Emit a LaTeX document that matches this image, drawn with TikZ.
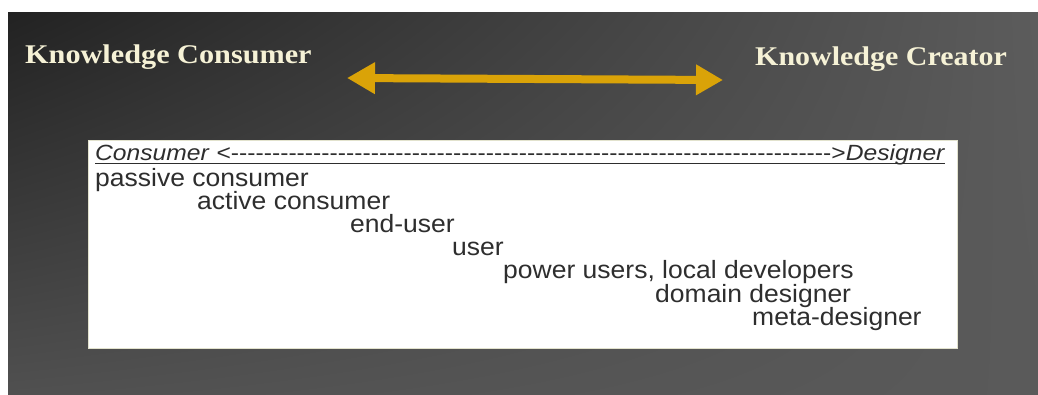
\documentclass[tikz,border=0pt]{standalone}
\usepackage{fontspec}
\setmainfont{Liberation Sans}
\newfontfamily\titlefont{Liberation Serif}
\usetikzlibrary{arrows.meta,shadings}
\definecolor{gold}{RGB}{218,163,8}
\definecolor{cream}{RGB}{246,242,214}
\definecolor{ink}{RGB}{46,46,46}
\definecolor{bgtl}{RGB}{34,34,34}
\definecolor{bgtr}{RGB}{92,92,92}
\definecolor{bgbl}{RGB}{80,80,80}
\definecolor{bgbr}{RGB}{90,90,90}
\definecolor{boxedge}{RGB}{226,226,205}
\tikzset{
  titletext/.style={text=cream, anchor=base west, inner sep=0pt, font=\titlefont\bfseries\fontsize{27}{30}\selectfont},
  roletext/.style={text=ink, anchor=base west, inner sep=0pt, font=\fontsize{25}{28}\selectfont},
  headtext/.style={text=ink, anchor=base west, inner sep=0pt, font=\fontsize{22}{24}\selectfont},
  goldarrow/.style={draw=gold, line width=8pt, {Triangle[length=28pt,width=30pt]}-{Triangle[length=27pt,width=29pt]}},
}
\begin{document}
\begin{tikzpicture}[x=1pt,y=-1pt]
\useasboundingbox (0,0) rectangle (1038,394);
\fill[white] (0,0) rectangle (1038,394);
\shade[upper left=bgtl, upper right=bgtr, lower left=bgbl, lower right=bgbr] (8,12) rectangle (1038,394);

% titles
\node[titletext] (kcons) at (25,63) {\scalebox{1.12}[1]{Knowledge Consumer}};
\node[titletext] (kcrea) at (755,65) {\scalebox{1.11}[1]{Knowledge Creator}};

% double arrow
\coordinate (aL) at (347,78);
\coordinate (aR) at (723,80);
\draw[goldarrow] (aL) -- (aR);

% white box
\draw[draw=boxedge, fill=white, line width=1pt] (88,140) rectangle (957,348);

% header
\node[headtext] (hdr) at (95,160) {\scalebox{1.12}[1]{\makebox[759pt][s]{\textit{Consumer} <\xleaders\hbox{-}\hfill>\textit{Designer}}}};
\draw[ink, line width=1.6pt] ([yshift=-3.5pt]hdr.base west) -- ([yshift=-3.5pt]hdr.base east);

% roles
\node[roletext] (r1) at (95,186)  {\scalebox{1.06}[1]{passive consumer}};
\node[roletext] (r2) at (197,209) {\scalebox{1.06}[1]{active consumer}};
\node[roletext] (r3) at (350,232) {\scalebox{1.06}[1]{end-user}};
\node[roletext] (r4) at (452,255) {\scalebox{1.06}[1]{user}};
\node[roletext] (r5) at (503,278) {\scalebox{1.06}[1]{power users, local developers}};
\node[roletext] (r6) at (655,302) {\scalebox{1.06}[1]{domain designer}};
\node[roletext] (r7) at (752,325) {\scalebox{1.06}[1]{meta-designer}};
\end{tikzpicture}
\end{document}
